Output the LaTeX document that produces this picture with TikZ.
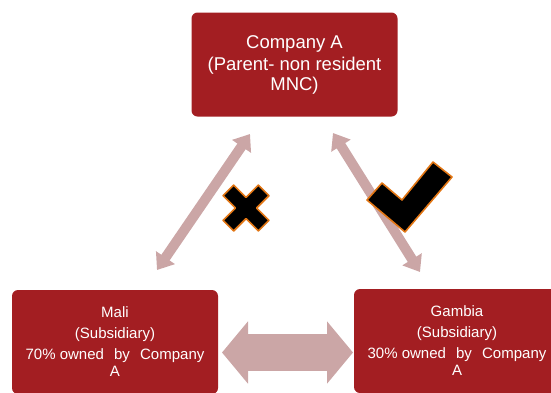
\documentclass[tikz,border=0pt]{standalone}
\usepackage{fontspec}
\setmainfont{Liberation Sans}
\usetikzlibrary{arrows.meta}
\definecolor{boxred}{RGB}{163,30,34}
\definecolor{linkpink}{RGB}{203,166,166}
\definecolor{markglow}{RGB}{226,118,20}
\begin{document}
\begin{tikzpicture}[x=1pt,y=-1pt,
  entity/.style={rectangle, rounded corners=6pt, fill=boxred, text=white,
    minimum width=206pt, minimum height=104pt, inner sep=0pt, align=center},
  topfont/.style={font=\fontsize{18.5}{20}\selectfont},
  subfont/.style={font=\fontsize{15}{17}\selectfont},
  link/.style={draw=linkpink, line width=10pt,
    {Triangle[width=22pt,length=15pt]}-{Triangle[width=22pt,length=15pt]}},
  exchange/.style={draw=linkpink, line width=37pt,
    {Triangle[width=61pt,length=26pt]}-{Triangle[width=61pt,length=26pt]}},
  tickmark/.style={fill=black, draw=markglow, line width=1.6pt, line join=round}
]
\useasboundingbox (0,0) rectangle (551,392);
\clip (0,0) rectangle (551,392);

% companies
\node[entity, topfont] (parent) at (294.5,64.5)
  {Company A\\[2pt](Parent- non resident\\MNC)};
\node[entity, subfont] (mali) at (115,342)
  {Mali\\[4pt](Subsidiary)\\[4pt]70\% owned\hspace{6pt} by\hspace{6pt} Company\\A};
\node[entity, subfont] (gambia) at (457,341)
  {Gambia\\[4pt](Subsidiary)\\[4pt]30\% owned\hspace{6pt} by\hspace{6pt} Company\\A};

% arrow ends
\coordinate (maliup)   at (157,270);
\coordinate (parentl)  at (250,134);
\coordinate (parentr)  at (333,133);
\coordinate (gambiaup) at (420,272);
\coordinate (malir)    at (222,352.5);
\coordinate (gambial)  at (353,352.5);

% links between the companies
\draw[link] (maliup) -- (parentl);
\draw[link] (parentr) -- (gambiaup);
\draw[exchange] (malir) -- (gambial);

% cross: no direct relation
\filldraw[tickmark, shift={(246,208)}, rotate=45]
  (7.5,25) -- (7.5,7.5) -- (25,7.5) -- (25,-7.5) -- (7.5,-7.5) -- (7.5,-25)
  -- (-7.5,-25) -- (-7.5,-7.5) -- (-25,-7.5) -- (-25,7.5) -- (-7.5,7.5)
  -- (-7.5,25) -- cycle;

% tick: relation holds
\filldraw[tickmark] (367,200) -- (405,232) -- (452,177) -- (433,162)
  -- (402,200) -- (382,183) -- cycle;
\end{tikzpicture}
\end{document}
